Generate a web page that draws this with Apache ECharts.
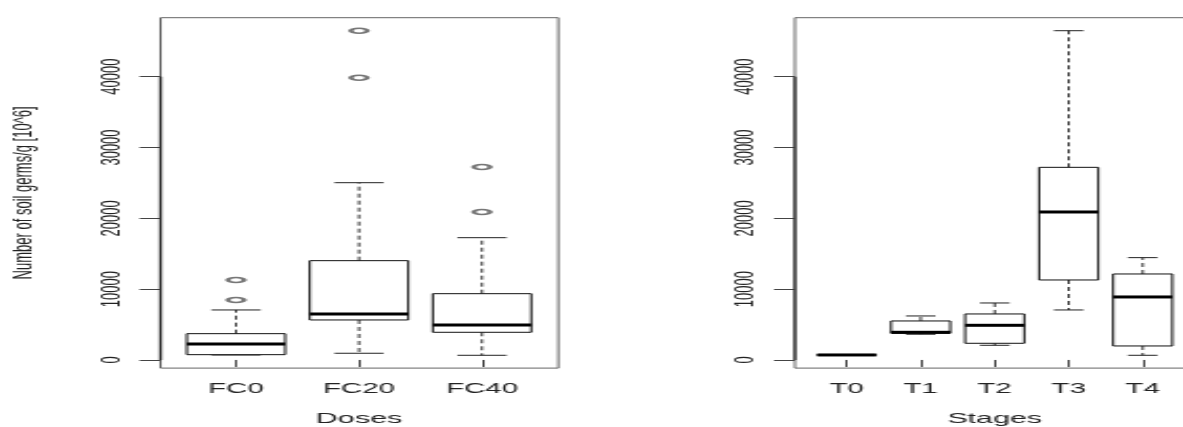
<!DOCTYPE html>
<html>
<head>
<meta charset="utf-8">
<script src="https://cdn.jsdelivr.net/npm/echarts@6/dist/echarts.min.js"></script>
<style>
html,body{margin:0;padding:0;background:#fff;overflow:hidden;}
#chart{width:564px;height:427px;transform:scaleX(2.0975);transform-origin:0 0;}
</style>
</head>
<body>
<div id="chart"></div>
<script>
// ---- data ----
const doseCats = ['FC0', 'FC20', 'FC40'];
const doseMin = [700, 946, 659];
const doseQ1 = [748, 5647, 3906];
const doseMedian = [2259, 6494, 4941];
const doseQ3 = [3713, 14020, 9360];
const doseMax = [7060, 25032, 17267];
const doseOutlierCat = ['FC0', 'FC0', 'FC20', 'FC20', 'FC40', 'FC40'];
const doseOutlierVal = [8471, 11295, 39856, 46492, 20895, 27248];

const stageCats = ['T0', 'T1', 'T2', 'T3', 'T4'];
const stageMin = [680, 3630, 2071, 7059, 659];
const stageQ1 = [690, 3765, 2353, 11295, 1977];
const stageMedian = [706, 3906, 4894, 20895, 8895];
const stageQ3 = [720, 5506, 6494, 27201, 12142];
const stageMax = [730, 6212, 8047, 46492, 14448];

const yTicks = [0, 10000, 20000, 30000, 40000];
const yRange = [-1150, 48330];

// ---- layout helpers (reference pixels -> stretched canvas pixels) ----
const S = 1183 / 564;
const X = v => v / S;
const TOP = 17.7, H = 350.4;
const FONT = 'Liberation Sans, Arial, sans-serif';

function renderBox(params, api) {
  const x = api.value(0);
  const lo = api.coord([x, api.value(1)]);
  const q1 = api.coord([x, api.value(2)]);
  const med = api.coord([x, api.value(3)]);
  const q3 = api.coord([x, api.value(4)]);
  const hi = api.coord([x, api.value(5)]);
  const band = api.size([1, 0])[0];
  const bw = band * 0.4;
  const sw = band * 0.2;
  const cx = lo[0];
  const dash = {stroke: '#333', lineWidth: 1, lineDash: [4, 3]};
  const solid = {stroke: '#222', lineWidth: 1};
  return {
    type: 'group',
    children: [
      {type: 'line', shape: {x1: cx, y1: q3[1], x2: cx, y2: hi[1]}, style: dash},
      {type: 'line', shape: {x1: cx, y1: q1[1], x2: cx, y2: lo[1]}, style: dash},
      {type: 'line', shape: {x1: cx - sw, y1: hi[1], x2: cx + sw, y2: hi[1]}, style: solid},
      {type: 'line', shape: {x1: cx - sw, y1: lo[1], x2: cx + sw, y2: lo[1]}, style: solid},
      {type: 'rect', shape: {x: cx - bw, y: q3[1], width: 2 * bw, height: q1[1] - q3[1]},
        style: {fill: '#fff', stroke: '#111', lineWidth: 1}},
      {type: 'line', shape: {x1: cx - bw, y1: med[1], x2: cx + bw, y2: med[1]},
        style: {stroke: '#000', lineWidth: 3}}
    ]
  };
}

function frameYAxis(gridIndex, name) {
  return {
    gridIndex: gridIndex, type: 'value', min: yRange[0], max: yRange[1],
    axisLine: {show: false},
    splitLine: {show: false},
    axisTick: {show: true, customValues: yTicks, length: 10, lineStyle: {color: '#444', width: 1}},
    axisLabel: {show: true, customValues: yTicks, rotate: 90, margin: 17,
      formatter: v => String(v),
      fontSize: 13, color: '#222', fontFamily: FONT},
    name: name, nameLocation: 'middle', nameGap: 59, nameRotate: 90,
    nameTextStyle: {fontSize: 13, color: '#222', fontFamily: FONT}
  };
}
function dataYAxis(gridIndex) {
  return {gridIndex: gridIndex, type: 'value', min: yRange[0], max: yRange[1], show: false, splitLine: {show: false}};
}
function catXAxis(gridIndex, cats, name) {
  return {
    gridIndex: gridIndex, type: 'category', data: cats, boundaryGap: true,
    axisLine: {show: false},
    axisTick: {show: true, alignWithLabel: true, length: 7, lineStyle: {color: '#444', width: 1}},
    axisLabel: {margin: 14, fontSize: 14, color: '#222', fontFamily: FONT},
    splitLine: {show: false},
    name: name, nameLocation: 'middle', nameGap: 43,
    nameTextStyle: {fontSize: 14.5, color: '#222', fontFamily: FONT}
  };
}
function grid(left, width, frame) {
  const g = {left: X(left), width: X(width), top: TOP, height: H,
    outerBoundsMode: 'none', containLabel: false};
  if (frame) Object.assign(g, {show: true, borderColor: '#666', borderWidth: 1, backgroundColor: 'transparent'});
  return g;
}

const chart = echarts.init(document.getElementById('chart'));
chart.setOption({
  animation: false,
  backgroundColor: '#fff',
  grid: [
    grid(160.5, 397.8, true),
    grid(174.5, 369, false),
    grid(794.9, 399.6, true),
    grid(809.7, 370, false)
  ],
  xAxis: [
    {gridIndex: 0, type: 'value', min: 0, max: 1, show: false, splitLine: {show: false}},
    catXAxis(1, doseCats, 'Doses'),
    {gridIndex: 2, type: 'value', min: 0, max: 1, show: false, splitLine: {show: false}},
    catXAxis(3, stageCats, 'Stages')
  ],
  yAxis: [
    frameYAxis(0, 'Number of soil germs/g [10^6]'),
    dataYAxis(1),
    frameYAxis(2, ''),
    dataYAxis(3)
  ],
  series: [
    {type: 'line', xAxisIndex: 0, yAxisIndex: 0, clip: false, symbol: 'none', silent: true,
      data: [[0, yTicks[0]], [0, yTicks[yTicks.length - 1]]], lineStyle: {color: '#333', width: 1.4}},
    {type: 'line', xAxisIndex: 2, yAxisIndex: 2, clip: false, symbol: 'none', silent: true,
      data: [[0, yTicks[0]], [0, yTicks[yTicks.length - 1]]], lineStyle: {color: '#333', width: 1.4}},
    {type: 'custom', xAxisIndex: 1, yAxisIndex: 1, renderItem: renderBox, clip: false,
      encode: {x: 0, y: [1, 2, 3, 4, 5]},
      data: doseCats.map((c, i) => [i, doseMin[i], doseQ1[i], doseMedian[i], doseQ3[i], doseMax[i]])},
    {type: 'scatter', xAxisIndex: 1, yAxisIndex: 1, symbol: 'emptyCircle', symbolSize: [7.8, 5],
      itemStyle: {color: '#555', borderColor: '#555', borderWidth: 0.6},
      data: doseOutlierCat.map((c, i) => [c, doseOutlierVal[i]])},
    {type: 'custom', xAxisIndex: 3, yAxisIndex: 3, renderItem: renderBox, clip: false,
      encode: {x: 0, y: [1, 2, 3, 4, 5]},
      data: stageCats.map((c, i) => [i, stageMin[i], stageQ1[i], stageMedian[i], stageQ3[i], stageMax[i]])}
  ]
});
</script>
</body>
</html>
